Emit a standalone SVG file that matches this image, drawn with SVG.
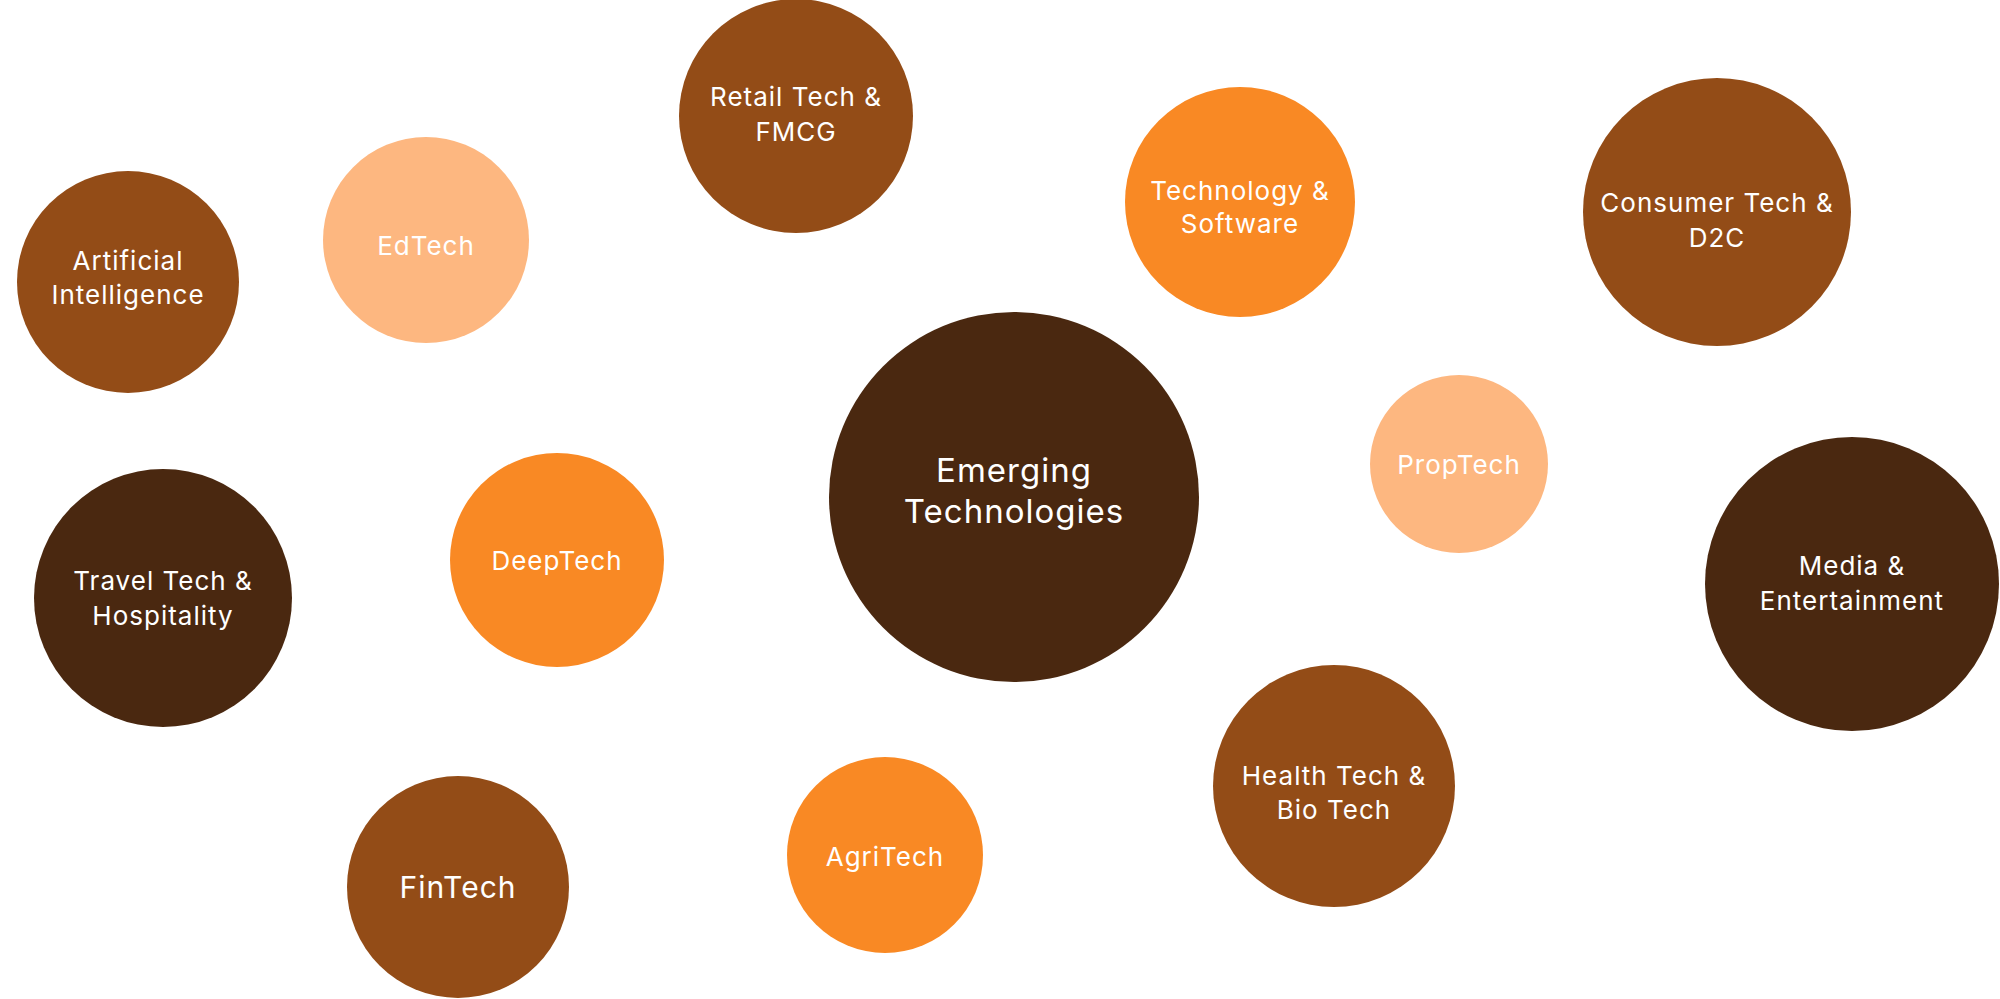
<svg xmlns="http://www.w3.org/2000/svg" width="2000" height="999" viewBox="0 0 2000 999">
<style>
text{font-family:Inter,"Noto Sans",sans-serif;fill:#fff;text-anchor:middle;font-size:26px;letter-spacing:1px}
.d{fill:#4A2810}.b{fill:#934C17}.o{fill:#F98924}.l{fill:#FDB780}
</style>
<rect width="2000" height="999" fill="#fff"/>
<g id="emerging"><circle class="d" cx="1014" cy="497" r="185"/><text x="1014" y="482" font-size="33" style="font-size:33px">Emerging</text><text x="1014" y="523" style="font-size:33px">Technologies</text></g>
<g id="retail"><circle class="b" cx="796" cy="116" r="117"/><text x="796" y="106">Retail Tech &amp;</text><text x="796" y="141">FMCG</text></g>
<g id="techsoft"><circle class="o" cx="1240" cy="202" r="115"/><text x="1240" y="200">Technology &amp;</text><text x="1240" y="233">Software</text></g>
<g id="consumer"><circle class="b" cx="1717" cy="212" r="134"/><text x="1717" y="212">Consumer Tech &amp;</text><text x="1717" y="247">D2C</text></g>
<g id="ai"><circle class="b" cx="128" cy="282" r="111"/><text x="128" y="270">Artificial</text><text x="128" y="304">Intelligence</text></g>
<g id="edtech"><circle class="l" cx="426" cy="240" r="103"/><text x="426" y="255">EdTech</text></g>
<g id="proptech"><circle class="l" cx="1459" cy="464" r="89"/><text x="1459" y="474">PropTech</text></g>
<g id="media"><circle class="d" cx="1852" cy="584" r="147"/><text x="1852" y="575">Media &amp;</text><text x="1852" y="610">Entertainment</text></g>
<g id="travel"><circle class="d" cx="163" cy="598" r="129"/><text x="163" y="590">Travel Tech &amp;</text><text x="163" y="625">Hospitality</text></g>
<g id="deeptech"><circle class="o" cx="557" cy="560" r="107"/><text x="557" y="570">DeepTech</text></g>
<g id="health"><circle class="b" cx="1334" cy="786" r="121"/><text x="1334" y="785">Health Tech &amp;</text><text x="1334" y="819">Bio Tech</text></g>
<g id="agritech"><circle class="o" cx="885" cy="855" r="98"/><text x="885" y="866">AgriTech</text></g>
<g id="fintech"><circle class="b" cx="458" cy="887" r="111"/><text x="458" y="898" style="font-size:30px">FinTech</text></g>
<g id="connectors"/>
</svg>
